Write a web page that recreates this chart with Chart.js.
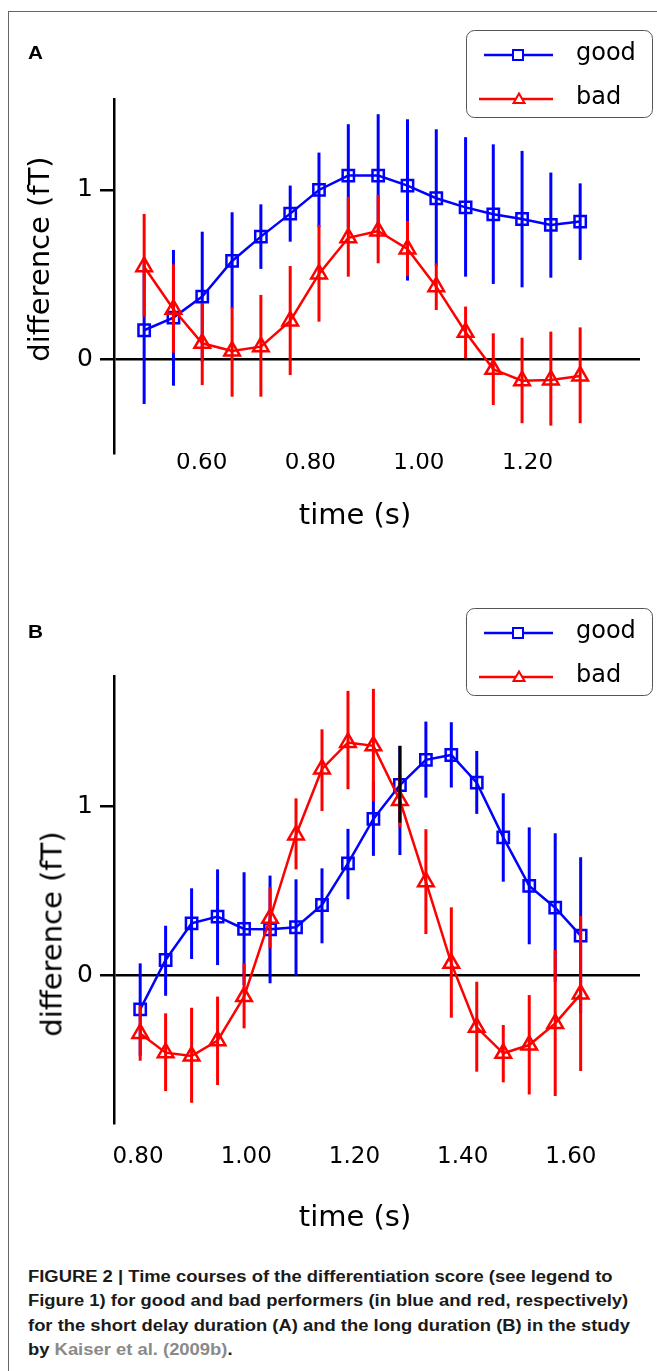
<!DOCTYPE html>
<html>
<head>
<meta charset="utf-8">
<script src="https://cdn.jsdelivr.net/npm/chart.js@4.4.1/dist/chart.umd.min.js"></script>
<style>
  html, body { margin: 0; padding: 0; background: #fff; }
  body { width: 657px; height: 1371px; position: relative; overflow: hidden; font-family: "DejaVu Sans", sans-serif; color: #000; }
  .frame-top { position: absolute; left: 8px; top: 11px; width: 649px; border-top: 1px solid #666; }
  .frame-left { position: absolute; left: 8px; top: 11px; height: 1360px; border-left: 1px solid #666; }
  canvas { position: absolute; left: 0; }
  #chartA { top: 0; }
  #chartB { top: 580px; }
  .letter { position: absolute; left: 28px; font: bold 18px "Liberation Sans", Arial, sans-serif; line-height: 1; transform: scaleX(1.15); transform-origin: left top; }
  .title { position: absolute; font-size: 29px; line-height: 1; white-space: nowrap; transform: translate(-50%, -50%); }
  .ytitle { transform: translate(-50%, -50%) rotate(-90deg); }
  .legend { position: absolute; left: 466px; }
  .caption { position: absolute; left: 28px; top: 1265px; font: bold 16px "Liberation Sans", Arial, sans-serif; line-height: 24.3px; color: #1a1a1a; white-space: nowrap; transform: scaleX(1.15); transform-origin: left top; }
  .caption .ref { color: #8a8a8a; }
</style>
</head>
<body>
<div class="frame-top"></div>
<div class="frame-left"></div>

<canvas id="chartA" width="657" height="560"></canvas>
<canvas id="chartB" width="657" height="620"></canvas>

<div class="letter" style="top:44px">A</div>
<div class="letter" style="top:623px">B</div>

<div class="title ytitle" style="left:39px; top:259px">difference (fT)</div>
<div class="title" style="left:355px; top:514px">time (s)</div>
<div class="title ytitle" style="left:52px; top:934px">difference (fT)</div>
<div class="title" style="left:355px; top:1216px">time (s)</div>

<svg class="legend" style="top:30px" width="188" height="89"></svg>
<svg class="legend" style="top:608px" width="188" height="89"></svg>

<div class="caption">FIGURE 2 | Time courses of the differentiation score (see legend to<br>Figure 1) for good and bad performers (in blue and red, respectively)<br>for the short delay duration (A) and the long duration (B) in the study<br>by <span class="ref">Kaiser et al. (2009b)</span>.</div>

<script>
// Panel A: short delay
const timeA = [0.494, 0.548, 0.601, 0.656, 0.709, 0.763, 0.816, 0.870, 0.925, 0.979, 1.032, 1.086, 1.137, 1.190, 1.243, 1.297];
const goodA = [0.17, 0.245, 0.369, 0.58, 0.724, 0.86, 1.0, 1.085, 1.085, 1.026, 0.951, 0.897, 0.856, 0.828, 0.793, 0.813];
const goodAHi = [0.60, 0.645, 0.753, 0.868, 0.915, 1.026, 1.221, 1.389, 1.448, 1.418, 1.359, 1.312, 1.270, 1.231, 1.103, 1.039];
const goodALo = [-0.266, -0.158, -0.016, 0.30, 0.533, 0.694, 0.779, 0.777, 0.72, 0.464, 0.552, 0.487, 0.444, 0.424, 0.481, 0.586];
const badA = [0.546, 0.294, 0.093, 0.047, 0.073, 0.225, 0.503, 0.717, 0.757, 0.651, 0.428, 0.158, -0.061, -0.128, -0.124, -0.10];
const badAHi = [0.858, 0.56, 0.33, 0.308, 0.379, 0.55, 0.793, 0.958, 0.970, 0.817, 0.566, 0.31, 0.152, 0.126, 0.162, 0.187];
const badALo = [0.25, 0.037, -0.154, -0.223, -0.223, -0.095, 0.221, 0.487, 0.566, 0.49, 0.29, 0.004, -0.272, -0.38, -0.394, -0.38];
const xTicksA = [0.6, 0.8, 1.0, 1.2];

// Panel B: long delay
const timeB = [0.804, 0.851, 0.899, 0.947, 0.996, 1.044, 1.092, 1.140, 1.188, 1.235, 1.284, 1.332, 1.379, 1.426, 1.475, 1.523, 1.571, 1.618];
const goodB = [-0.202, 0.091, 0.308, 0.348, 0.275, 0.273, 0.285, 0.417, 0.664, 0.927, 1.128, 1.277, 1.306, 1.142, 0.818, 0.530, 0.401, 0.235];
const goodBHi = [0.071, 0.294, 0.516, 0.628, 0.611, 0.591, 0.569, 0.634, 0.868, 1.148, 1.36, 1.504, 1.50, 1.33, 1.079, 0.877, 0.842, 0.70];
const goodBLo = [-0.476, -0.121, 0.097, 0.061, -0.057, -0.047, 0.002, 0.19, 0.451, 0.708, 0.713, 1.053, 1.113, 0.957, 0.555, 0.184, -0.038, -0.225];
const badB = [-0.344, -0.458, -0.478, -0.387, -0.126, 0.338, 0.832, 1.223, 1.38, 1.36, 1.036, 0.555, 0.071, -0.308, -0.462, -0.413, -0.285, -0.111];
const badBHi = [-0.18, -0.225, -0.192, -0.126, 0.071, 0.522, 1.049, 1.458, 1.686, 1.698, 1.19, 0.866, 0.403, -0.038, -0.294, -0.117, 0.150, 0.352];
const badBLo = [-0.506, -0.686, -0.755, -0.650, -0.314, 0.16, 0.628, 0.974, 1.103, 1.03, 0.88, 0.245, -0.251, -0.571, -0.634, -0.706, -0.715, -0.567];
const xTicksB = [0.8, 1.0, 1.2, 1.4, 1.6];
// stray black bar drawn over the 1.28 s point in the original
const markTimeB = [1.284];
const markLoB = [0.905];
const markHiB = [1.36];

const yTicks = [0, 1];
const BLUE = "#0000ff";
const RED = "#ff0000";

// vertical error bars, drawn just under each series
const errorBars = {
  id: "errorBars",
  beforeDatasetDraw(chart, args) {
    const ds = chart.data.datasets[args.index];
    if (!ds.errLo) return;
    const xs = chart.scales.x, ys = chart.scales.y, ctx = chart.ctx;
    ctx.save();
    ctx.strokeStyle = ds.borderColor;
    ctx.lineWidth = 3;
    ds.data.forEach((p, i) => {
      const px = xs.getPixelForValue(p.x);
      ctx.beginPath();
      ctx.moveTo(px, ys.getPixelForValue(ds.errLo[i]));
      ctx.lineTo(px, ys.getPixelForValue(ds.errHi[i]));
      ctx.stroke();
    });
    ctx.restore();
  },
  afterDatasetsDraw(chart) {
    const marks = chart.options.plugins.errorBars.marks;
    if (!marks) return;
    const xs = chart.scales.x, ys = chart.scales.y, ctx = chart.ctx;
    ctx.save();
    ctx.strokeStyle = "#000";
    ctx.lineWidth = 3;
    marks.t.forEach((t, i) => {
      const px = xs.getPixelForValue(t);
      ctx.beginPath();
      ctx.moveTo(px, ys.getPixelForValue(marks.lo[i]));
      ctx.lineTo(px, ys.getPixelForValue(marks.hi[i]));
      ctx.stroke();
    });
    ctx.restore();
  },
};

function series(times, values, lo, hi, color, style, radius, order) {
  return {
    data: times.map((t, i) => ({ x: t, y: values[i] })),
    errLo: lo,
    errHi: hi,
    borderColor: color,
    borderWidth: 2.5,
    tension: 0,
    pointStyle: style,
    pointRadius: radius,
    pointBorderColor: color,
    pointBackgroundColor: "rgba(0,0,0,0)",
    pointBorderWidth: 2.5,
    order: order,
  };
}

function makePanel(id, cfg) {
  new Chart(document.getElementById(id), {
    type: "line",
    data: {
      datasets: [
        series(cfg.time, cfg.good, cfg.goodLo, cfg.goodHi, BLUE, "rect", 8, 2),
        series(cfg.time, cfg.bad, cfg.badLo, cfg.badHi, RED, "triangle", 9, 1),
      ],
    },
    options: {
      responsive: false,
      animation: false,
      events: [],
      layout: { padding: { top: cfg.padTop, right: 17, left: 0, bottom: 0 } },
      plugins: {
        legend: { display: false },
        tooltip: { enabled: false },
        errorBars: { marks: cfg.marks },
      },
      scales: {
        x: {
          type: "linear",
          min: cfg.xMin,
          max: cfg.xMax,
          afterBuildTicks: (s) => { s.ticks = cfg.xTicks.map((v) => ({ value: v })); },
          afterFit: (s) => { s.height = cfg.xHeight; },
          grid: { display: false, drawTicks: false },
          border: { display: false },
          ticks: {
            font: { family: "DejaVu Sans", size: 23 },
            color: "#000",
            padding: cfg.xPad,
            maxRotation: 0,
            autoSkip: false,
            callback: (v) => Number(v).toFixed(2),
          },
        },
        y: {
          min: cfg.yMin,
          max: cfg.yMax,
          afterBuildTicks: (s) => { s.ticks = yTicks.map((v) => ({ value: v })); },
          afterFit: (s) => { s.width = 114; },
          grid: {
            color: (c) => (c.tick && c.tick.value === 0 ? "#000" : "rgba(0,0,0,0)"),
            tickColor: "#000",
            lineWidth: 2.5,
            tickLength: 14,
          },
          border: { display: true, color: "#000", width: 2.5 },
          ticks: { font: { family: "DejaVu Sans", size: 25 }, color: "#000", padding: 7 },
        },
      },
    },
    plugins: [errorBars],
  });
}

makePanel("chartA", {
  time: timeA, good: goodA, goodLo: goodALo, goodHi: goodAHi,
  bad: badA, badLo: badALo, badHi: badAHi, xTicks: xTicksA,
  xMin: 0.4385, xMax: 1.4072, yMin: -0.556, yMax: 1.538,
  padTop: 99, xHeight: 107, xPad: -4,
});

makePanel("chartB", {
  time: timeB, good: goodB, goodLo: goodBLo, goodHi: goodBHi,
  bad: badB, badLo: badBLo, badHi: badBHi, xTicks: xTicksB,
  xMin: 0.7556, xMax: 1.7277, yMin: -0.875, yMax: 1.774,
  padTop: 96, xHeight: 77, xPad: 20,
  marks: { t: markTimeB, lo: markLoB, hi: markHiB },
});

// legend boxes: line - marker - line, then the label
const NS = "http://www.w3.org/2000/svg";
function el(svg, name, attrs, text) {
  const n = document.createElementNS(NS, name);
  for (const k in attrs) n.setAttribute(k, attrs[k]);
  if (text) n.textContent = text;
  svg.appendChild(n);
}
document.querySelectorAll("svg.legend").forEach((svg) => {
  el(svg, "rect", { x: 0.5, y: 0.5, width: 186, height: 87, rx: 8, fill: "#fff", stroke: "#555", "stroke-width": 1 });
  el(svg, "line", { x1: 18, y1: 25, x2: 87, y2: 25, stroke: BLUE, "stroke-width": 2.5 });
  el(svg, "rect", { x: 47, y: 20, width: 10, height: 10, fill: "#fff", stroke: BLUE, "stroke-width": 2 });
  el(svg, "text", { x: 110, y: 30, "font-family": "DejaVu Sans", "font-size": 24 }, "good");
  el(svg, "line", { x1: 13, y1: 69, x2: 87, y2: 69, stroke: RED, "stroke-width": 2.5 });
  el(svg, "polygon", { points: "53,63.5 58.5,73 47.5,73", fill: "#fff", stroke: RED, "stroke-width": 2 });
  el(svg, "text", { x: 110, y: 74, "font-family": "DejaVu Sans", "font-size": 24 }, "bad");
});
</script>
</body>
</html>
